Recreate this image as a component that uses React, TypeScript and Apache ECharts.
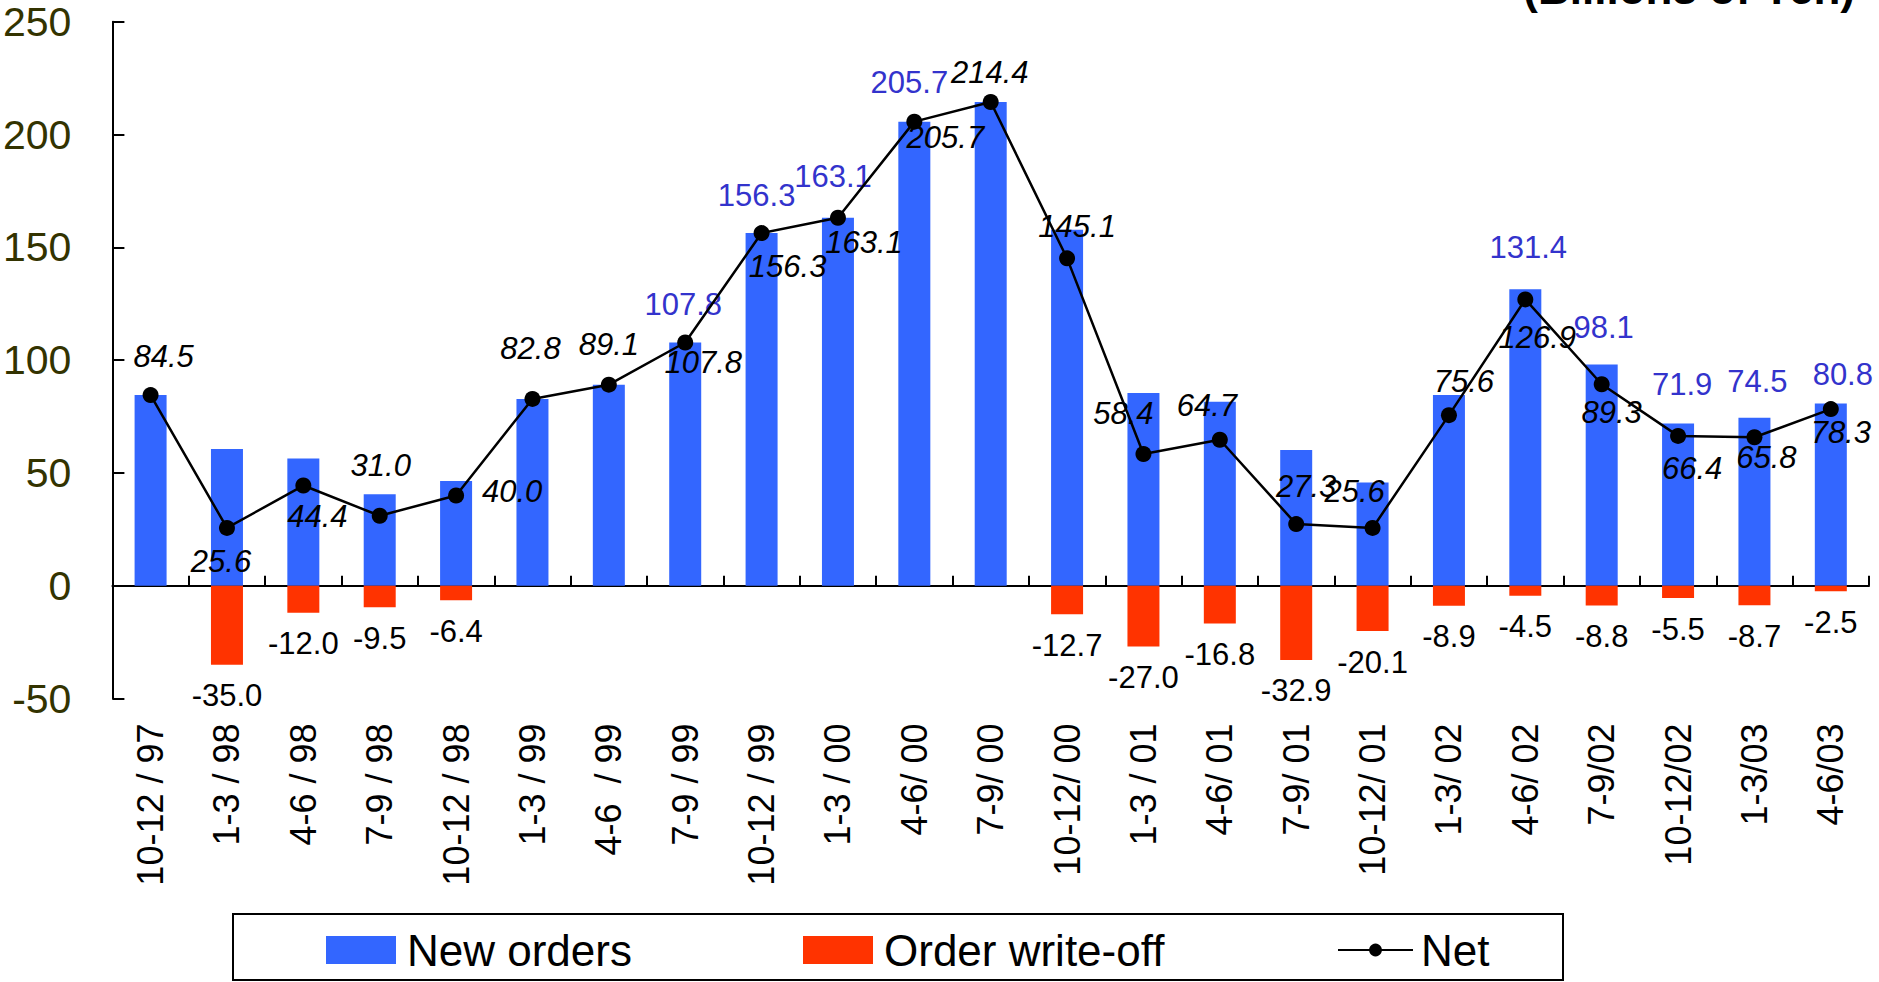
import React, { useEffect, useRef } from "react";
import * as echarts from "echarts";

const categories = [
  "10-12 / 97", "1-3 / 98", "4-6 / 98", "7-9 / 98", "10-12 / 98", "1-3 / 99",
  "4-6  / 99", "7-9 / 99", "10-12 / 99", "1-3 / 00", "4-6/ 00", "7-9/ 00",
  "10-12/ 00", "1-3 / 01", "4-6/ 01", "7-9/ 01", "10-12/ 01", "1-3/ 02",
  "4-6/ 02", "7-9/02", "10-12/02", "1-3/03", "4-6/03",
];

const newOrders = [
  84.5, 60.6, 56.4, 40.5, 46.4, 82.8, 89.1, 107.8, 156.3, 163.1, 205.7, 214.4,
  157.8, 85.4, 81.5, 60.2, 45.7, 84.5, 131.4, 98.1, 71.9, 74.5, 80.8,
];

const writeOffs: (number | null)[] = [
  null, -35.0, -12.0, -9.5, -6.4, null, null, null, null, null, null, null,
  -12.7, -27.0, -16.8, -32.9, -20.1, -8.9, -4.5, -8.8, -5.5, -8.7, -2.5,
];

const net = [
  84.5, 25.6, 44.4, 31.0, 40.0, 82.8, 89.1, 107.8, 156.3, 163.1, 205.7, 214.4,
  145.1, 58.4, 64.7, 27.3, 25.6, 75.6, 126.9, 89.3, 66.4, 65.8, 78.3,
];

const yMin = -50;
const yMax = 250;
const yStep = 50;

// label placement (style): offsets of label centres from their anchor
const netLabelOffsets: [number, number][] = [
  [13, -39], [-6, 34], [14, 31], [1, -50], [56, -4], [-2, -50], [0, -40],
  [18, 20], [26, 33], [26, 25], [31, 16], [-1, -30], [10, -32], [-20, -40],
  [-13, -34], [10, -38], [-18, -36], [15, -34], [12, 38], [10, 28], [14, 33],
  [12, 20], [10, 23],
];
const blueLabelOffsets: Record<number, [number, number]> = {
  7: [-2, -38], 8: [-5, -38], 9: [-5, -41], 10: [-5, -39],
  18: [3, -42], 19: [2, -37], 20: [4, -39], 21: [3, -36], 22: [12, -29],
};

const FONT = "'Liberation Sans', Arial, sans-serif";

export default function App() {
  const ref = useRef<HTMLDivElement>(null);
  useEffect(() => {
    if (!ref.current) return;
    const chart = echarts.init(ref.current, undefined, { renderer: "svg" });

    const blueData = newOrders.map((v, i) => {
      const off = blueLabelOffsets[i];
      return {
        value: v,
        label: off
          ? { show: true, position: "top", distance: 0, verticalAlign: "middle", offset: off }
          : { show: false },
      };
    });

    const netData = net.map((v, i) => ({
      value: v,
      label: { offset: netLabelOffsets[i] },
    }));

    const legendText = { fontSize: 44, color: "#000", fontFamily: FONT };

    const option: any = {
      animation: false,
      backgroundColor: "#ffffff",
      textStyle: { fontFamily: FONT },
      grid: { left: 112, right: 10, top: 21.7, bottom: 283.5, containLabel: false },
      xAxis: [
        {
          type: "category",
          data: categories,
          position: "bottom",
          axisLine: { show: true, onZero: true, lineStyle: { color: "#000", width: 2 } },
          axisTick: { show: true, inside: true, length: 10, lineStyle: { color: "#000", width: 2 } },
          axisLabel: { show: false },
          splitLine: { show: false },
        },
        {
          type: "category",
          data: categories,
          position: "bottom",
          axisLine: { show: false, onZero: false },
          axisTick: { show: false },
          axisLabel: {
            show: true,
            rotate: 90,
            interval: 0,
            fontSize: 36,
            color: "#000",
            fontFamily: FONT,
            margin: 25,
          },
          splitLine: { show: false },
        },
      ],
      yAxis: {
        type: "value",
        min: yMin,
        max: yMax,
        interval: yStep,
        axisLine: { show: true, lineStyle: { color: "#000", width: 2 } },
        axisTick: { show: true, inside: true, length: 12, lineStyle: { color: "#000", width: 2 } },
        axisLabel: { fontSize: 41, color: "#333300", fontFamily: FONT, margin: 41 },
        splitLine: { show: false },
      },
      legend: [
        {
          data: ["New orders"],
          left: 321,
          top: 923,
          icon: "rect",
          itemWidth: 70,
          itemHeight: 28,
          textStyle: { ...legendText, padding: [0, 0, 0, 6] },
          selectedMode: false,
        },
        {
          data: ["Order write-off"],
          left: 798,
          top: 923,
          icon: "rect",
          itemWidth: 70,
          itemHeight: 28,
          textStyle: { ...legendText, padding: [0, 0, 0, 6] },
          selectedMode: false,
        },
        {
          data: ["Net"],
          left: 1332,
          top: 923,
          itemWidth: 75,
          itemHeight: 16,
          textStyle: { ...legendText, padding: [0, 0, 0, 3] },
          selectedMode: false,
        },
      ],
      graphic: [
        {
          type: "rect",
          shape: { x: 233, y: 914, width: 1330, height: 66 },
          style: { fill: "none", stroke: "#000", lineWidth: 2 },
          silent: true,
        },
        {
          type: "text",
          x: 1855,
          y: -12,
          style: {
            text: "(Billions of Yen)",
            font: `bold 44px ${FONT}`,
            fill: "#000",
            textAlign: "right",
            textVerticalAlign: "middle",
          },
          silent: true,
        },
      ],
      series: [
        {
          name: "New orders",
          type: "bar",
          xAxisIndex: 0,
          barWidth: 32,
          barGap: "-100%",
          itemStyle: { color: "#3366FF" },
          label: {
            color: "#3333CC",
            fontSize: 31,
            fontFamily: FONT,
            formatter: (p: any) => Number(p.value).toFixed(1),
          },
          data: blueData,
          z: 2,
        },
        {
          name: "Order write-off",
          type: "bar",
          xAxisIndex: 0,
          barWidth: 32,
          barGap: "-100%",
          itemStyle: { color: "#FF3300" },
          label: {
            show: true,
            position: "bottom",
            distance: 0,
            verticalAlign: "middle",
            offset: [0, 31],
            color: "#000",
            fontSize: 31,
            fontFamily: FONT,
            formatter: (p: any) => Number(p.value).toFixed(1),
          },
          data: writeOffs,
          z: 2,
        },
        {
          name: "Net",
          type: "line",
          xAxisIndex: 0,
          symbol: "circle",
          symbolSize: 16,
          itemStyle: { color: "#000" },
          lineStyle: { color: "#000", width: 2.5 },
          label: {
            show: true,
            position: "inside",
            align: "center",
            verticalAlign: "middle",
            color: "#000",
            fontSize: 31,
            fontStyle: "italic",
            fontFamily: FONT,
            formatter: (p: any) => Number(p.value).toFixed(1),
          },
          data: netData,
          z: 5,
        },
      ],
    };

    chart.setOption(option);
    return () => chart.dispose();
  }, []);

  return (
    <div
      ref={ref}
      style={{ position: "fixed", left: 0, top: 0, width: 1879, height: 982, background: "#fff" }}
    />
  );
}
